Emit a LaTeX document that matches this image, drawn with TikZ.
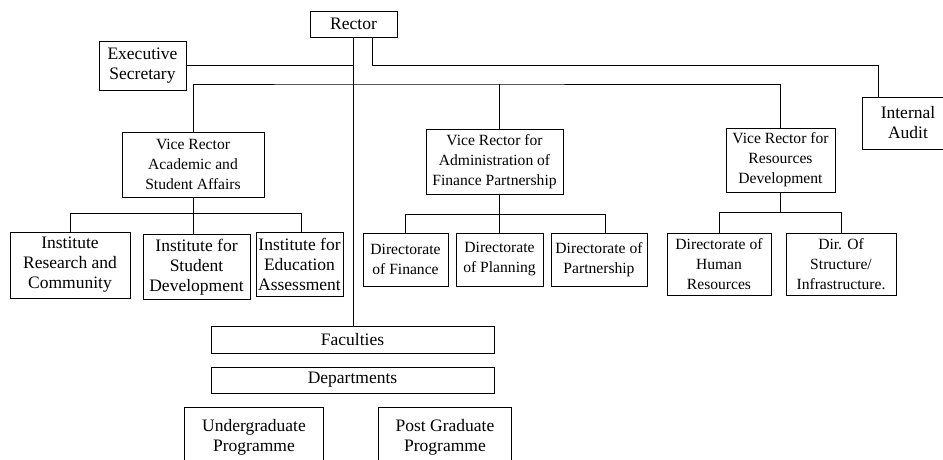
\documentclass[tikz,border=0pt]{standalone}
\usepackage{fontspec}
\setmainfont{Liberation Serif}
\begin{document}
\begin{tikzpicture}[x=1pt, y=-1pt, every node/.style={font=\fontsize{17.5}{20}\selectfont}]
\tikzset{orgbox/.style={draw,line width=0.9pt,inner sep=0pt,align=center,minimum width=#1},
  smalltxt/.style={font=\fontsize{15.6}{20}\selectfont},
  link/.style={line width=0.8pt}}
\useasboundingbox (0,0) rectangle (943,459);
\node[orgbox=87pt,minimum height=26pt] (rector) at (353.5,24) {Rector};
\node[orgbox=87pt,minimum height=49pt] (exec) at (142.5,65.5) {Executive\\Secretary};
\node[orgbox=92pt,minimum height=52pt] (audit) at (908,123) {Internal\\Audit};
\node[orgbox=142pt,minimum height=65pt,smalltxt] (vra) at (193,164.5) {Vice Rector\\Academic and\\Student Affairs};
\node[orgbox=137pt,minimum height=65pt,smalltxt] (vrf) at (494.5,161.5) {Vice Rector for\\Administration of\\Finance Partnership};
\node[orgbox=109pt,minimum height=64pt,smalltxt] (vrr) at (780.5,160) {Vice Rector for\\Resources\\Development};
% institutes
\node[orgbox=120pt,minimum height=66pt] (inst1) at (70,265) {Institute\\Research and\\Community};
\node[orgbox=107pt,minimum height=65pt] (inst2) at (196.5,267) {Institute for\\Student\\Development};
\node[orgbox=87pt,minimum height=64pt] (inst3) at (299.5,264) {Institute for\\Education\\Assessment};
% directorates
\node[orgbox=85pt,minimum height=53pt,smalltxt] (dir1) at (405.5,259.5) {Directorate\\of Finance};
\node[orgbox=87pt,minimum height=53pt,smalltxt] (dir2) at (499.5,259.5) {Directorate\\of Planning};
\node[orgbox=96pt,minimum height=53pt,smalltxt] (dir3) at (599,259.5) {Directorate of\\Partnership};
\node[orgbox=104pt,minimum height=62pt,smalltxt] (dirhr) at (719,264) {Directorate of\\Human\\Resources};
\node[orgbox=110pt,minimum height=62pt,smalltxt] (dirst) at (841,264) {Dir. Of\\Structure/\\Infrastructure.};
% faculties and programmes
\node[orgbox=283pt,minimum height=27pt] (fac) at (352.5,339.5) {Faculties};
\node[orgbox=283pt,minimum height=26pt] (dep) at (352.5,380) {Departments};
\node[orgbox=139pt,minimum height=60pt] (ug) at (254,437) {Undergraduate\\Programme};
\node[orgbox=133pt,minimum height=60pt] (pg) at (445,437) {Post Graduate\\Programme};
% connectors
\draw[link] (rector.south) -- (rector.south |- fac.north);
\draw[link] (exec.east) -- (exec.east -| rector.south);
\draw[link] ([xshift=19pt]rector.south) |- ([xshift=-30pt]audit.north |- exec.east) -- ([xshift=-30pt]audit.north);
\coordinate (bar) at (353,84);
\draw[link] (vra.north) |- (bar) -| (vrr.north);
\draw[link] ([xshift=5pt]vrf.north) -- ([xshift=5pt]vrf.north |- bar);
\draw[link] (vra.south) -- (inst2.north -| vra.south);
\draw[link] (inst1.north) |- ([yshift=-16pt]vra.south) -| ([xshift=2pt]inst3.north);
\draw[link] ([xshift=5pt]vrf.south) -- (dir2.north);
\draw[link] (dir1.north) |- ([xshift=5pt,yshift=-20pt]vrf.south) -| ([xshift=6pt]dir3.north);
\draw[link] (vrr.south) -- ++(0,20);
\draw[link] (dirhr.north) |- ([yshift=-20pt]vrr.south) -| (dirst.north);
\end{tikzpicture}
\end{document}
